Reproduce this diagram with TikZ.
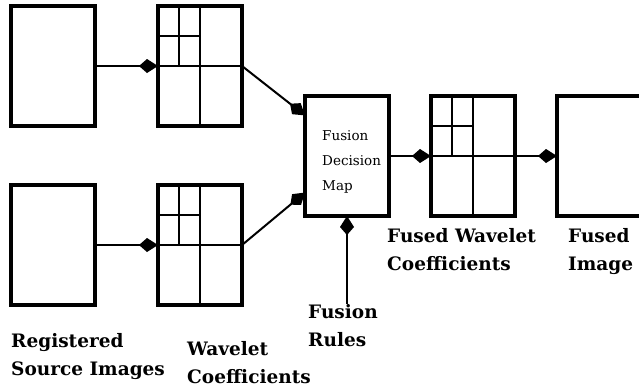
\documentclass[tikz,border=0pt]{standalone}
\usepackage{fontspec}
\setmainfont{DejaVu Serif}
\usetikzlibrary{arrows.meta}

\begin{document}
\begin{tikzpicture}[x=1pt,y=1pt]
\tikzset{
  imgbox/.style={draw=black,line width=3.4pt,minimum width=84pt,minimum height=120pt,inner sep=0pt,outer sep=0pt,anchor=north west},
  bandline/.style={draw=black,line width=1.4pt},
  flow/.style={draw=black,line width=2pt,-{Kite[length=19pt,width=14pt,inset=8pt]}},
  caption/.style={font=\bfseries\fontsize{18.5}{28}\selectfont,align=left,inner sep=0pt,anchor=north west},
  subbands/.pic={
    \draw[bandline] (21,0) -- (21,-60);
    \draw[bandline] (42,0) -- (42,-120);
    \draw[bandline] (0,-30) -- (42,-30);
    \draw[bandline] (0,-60) -- (84,-60);
  }
}
\clip (0,0) rectangle (639,-389);
\node[imgbox] (src1) at (11,-6) {};
\node[imgbox] (wav1) at (158,-6) {};
\node[imgbox] (src2) at (11,-185) {};
\node[imgbox] (wav2) at (158,-185) {};
\node[imgbox] (fdm) at (305,-96) {};
\node[align=left,inner sep=0pt,anchor=north west,font=\fontsize{13.5}{25}\selectfont] (fdmtext) at (322,-130) {Fusion\\Decision\\Map};
\node[imgbox] (fwc) at (431,-96) {};
\node[imgbox] (fimg) at (557,-96) {};
\pic at (wav1.north west) {subbands};
\pic at (wav2.north west) {subbands};
\pic at (fwc.north west) {subbands};
\node[caption] (srclabel) at (11,-333) {Registered\\Source Images};
\node[caption] (wavlabel) at (187,-341) {Wavelet\\Coefficients};
\node[caption] (rules) at (308,-304) {Fusion\\Rules};
\node[caption] (fwclabel) at (387,-228) {Fused Wavelet\\Coefficients};
\node[caption] (fimglabel) at (568,-228) {Fused\\Image};
\draw[flow] (src1) -- (wav1);
\draw[flow] (src2) -- (wav2);
\draw[flow] (wav1.east) -- (fdm.136);
\draw[flow] (wav2.east) -- (fdm.221);
\draw[flow] (fdm) -- (fwc);
\draw[flow] (fwc) -- (fimg);
\draw[flow] (rules.north -| fdm.south) -- (fdm.south);
\end{tikzpicture}
\end{document}
